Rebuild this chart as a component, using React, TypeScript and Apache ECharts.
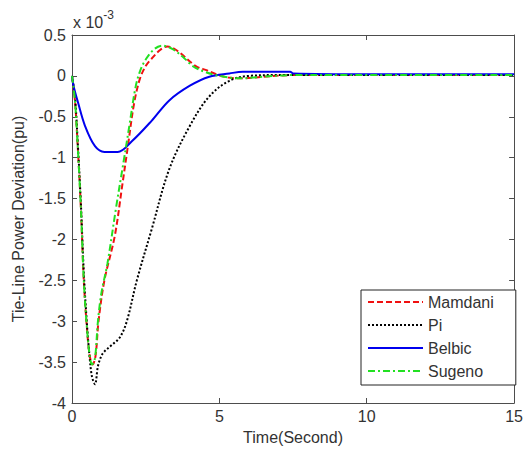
import React, { useEffect, useRef } from "react";
import * as echarts from "echarts";

// Time (s) and deviation (x 1e-3 pu)
const tMamdani = [0, 0.1, 0.2, 0.3, 0.4, 0.5, 0.6, 0.7, 0.8, 0.9, 1.1, 1.45, 1.7, 1.9, 2.1, 2.3, 2.5, 2.7, 3.0, 3.24, 3.6, 4.2, 4.56, 4.9, 5.3, 5.8, 6.5, 7.5, 9, 12, 15];
const vMamdani = [0, -0.3, -0.9, -1.6, -2.5, -3.05, -3.42, -3.53, -3.42, -3.0, -2.5, -1.96, -1.35, -0.85, -0.35, -0.04, 0.12, 0.21, 0.32, 0.36, 0.3, 0.12, 0.07, 0.02, -0.02, -0.03, -0.01, 0.01, 0.01, 0.01, 0.01];

const tPi = [0, 0.1, 0.2, 0.3, 0.4, 0.5, 0.6, 0.68, 0.78, 0.88, 1.0, 1.1, 1.35, 1.62, 1.86, 2.2, 2.7, 3.3, 4.0, 4.66, 5.34, 6.0, 7, 9, 12, 15];
const vPi = [0, -0.25, -0.85, -1.55, -2.4, -3.0, -3.45, -3.68, -3.77, -3.55, -3.42, -3.37, -3.29, -3.2, -3.0, -2.5, -1.88, -1.14, -0.61, -0.25, -0.06, 0, 0.01, 0.01, 0.01, 0.01];

const tBelbic = [0, 0.05, 0.2, 0.44, 0.78, 1.1, 1.55, 2.03, 2.7, 3.3, 4.0, 4.66, 5.34, 5.8, 7.4, 7.5, 10, 15];
const vBelbic = [0, -0.12, -0.32, -0.61, -0.86, -0.93, -0.93, -0.8, -0.55, -0.3, -0.12, -0.01, 0.03, 0.05, 0.05, 0.03, 0.02, 0.02];

const tSugeno = [0, 0.1, 0.2, 0.3, 0.4, 0.5, 0.6, 0.68, 0.78, 0.88, 1.0, 1.2, 1.5, 1.75, 1.95, 2.15, 2.3, 2.5, 2.8, 3.07, 3.4, 3.8, 4.1, 4.5, 5.0, 5.7, 6.5, 7.5, 9, 12, 15];
const vSugeno = [0, -0.3, -0.9, -1.6, -2.5, -3.05, -3.42, -3.53, -3.45, -3.0, -2.65, -2.3, -1.6, -1.05, -0.6, -0.15, 0.05, 0.2, 0.33, 0.37, 0.33, 0.22, 0.12, 0.05, 0, -0.03, -0.01, 0.01, 0.01, 0.01, 0.01];

const seriesNames = ["Mamdani", "Pi", "Belbic", "Sugeno"];
const xTicks = [0, 5, 10, 15];
const yTickLabels = ["0.5", "0", "-0.5", "-1", "-1.5", "-2", "-2.5", "-3", "-3.5", "-4"];

const zip = (t: number[], v: number[]) => t.map((x, i) => [x, v[i]]);

export default function App() {
  const ref = useRef<HTMLDivElement>(null);
  useEffect(() => {
    if (!ref.current) return;
    const chart = echarts.init(ref.current, null, { renderer: "svg" });
    const font = "Liberation Sans, Arial, sans-serif";
    const axisColor = "#4d4d4d";
    const textColor = "#333";
    const mk = (name: string, data: number[][], color: string, type: any) => ({
      name,
      type: "line",
      data,
      showSymbol: false,
      symbol: "none",
      smooth: 0.35,
      lineStyle: { color, width: 2, type },
      itemStyle: { color },
    });
    const sideAxis = { onZero: false, show: true, lineStyle: { color: axisColor, width: 1 } };
    chart.setOption({
      animation: false,
      backgroundColor: "#fff",
      textStyle: { fontFamily: font },
      grid: { left: 72, right: 10, top: 35, bottom: 47 },
      legend: {
        orient: "vertical",
        left: 361,
        top: 290,
        data: seriesNames,
        itemWidth: 55,
        itemHeight: 14,
        itemGap: 7,
        padding: [4, 22, 6, 6],
        backgroundColor: "#fff",
        borderColor: "#222",
        borderWidth: 1,
        borderRadius: 0,
        itemStyle: { opacity: 0 },
        textStyle: { fontSize: 16, color: textColor, fontFamily: font },
      },
      xAxis: [
        {
          type: "value",
          min: 0,
          max: 15,
          interval: 5,
          name: "Time(Second)",
          nameLocation: "middle",
          nameGap: 26,
          nameTextStyle: { fontSize: 16, color: textColor },
          axisLine: sideAxis,
          axisTick: { inside: true, length: 5, lineStyle: { color: axisColor } },
          axisLabel: { fontSize: 16, color: textColor, margin: 5, formatter: (v: number) => (xTicks.includes(v) ? String(v) : "") },
          splitLine: { show: false },
        },
        {
          type: "value",
          position: "top",
          min: 0,
          max: 15,
          interval: 5,
          axisLine: sideAxis,
          axisTick: { inside: true, length: 5, lineStyle: { color: axisColor } },
          axisLabel: { show: false },
          splitLine: { show: false },
        },
      ],
      yAxis: [
        {
          type: "value",
          min: -4,
          max: 0.5,
          interval: 0.5,
          name: "Tie-Line Power Deviation(pu)",
          nameLocation: "middle",
          nameGap: 46,
          nameTextStyle: { fontSize: 16, color: textColor },
          axisLine: sideAxis,
          axisTick: { show: true, inside: true, length: 5, lineStyle: { color: axisColor } },
          axisLabel: {
            fontSize: 16,
            color: textColor,
            margin: 6,
            formatter: (v: number) => {
              const idx = Math.round((0.5 - v) / 0.5);
              return yTickLabels[idx] ?? "";
            },
          },
          splitLine: { show: false },
        },
        {
          type: "value",
          position: "right",
          min: -4,
          max: 0.5,
          interval: 0.5,
          axisLine: sideAxis,
          axisTick: { show: true, inside: true, length: 5, lineStyle: { color: axisColor } },
          axisLabel: { show: false },
          splitLine: { show: false },
        },
      ],
      graphic: [
        {
          type: "text",
          left: 73,
          top: 9,
          style: {
            text: "{a|x 10}{b|-3}",
            rich: {
              a: { fontSize: 16, fill: textColor, fontFamily: font, verticalAlign: "bottom" },
              b: { fontSize: 12, fill: textColor, fontFamily: font, verticalAlign: "top", padding: [0, 0, 9, 0] },
            },
          },
        },
      ],
      series: [
        mk(seriesNames[0], zip(tMamdani, vMamdani), "#f01010", [6, 3]),
        mk(seriesNames[1], zip(tPi, vPi), "#000000", [2, 2]),
        mk(seriesNames[2], zip(tBelbic, vBelbic), "#0000ee", "solid"),
        mk(seriesNames[3], zip(tSugeno, vSugeno), "#22e022", [7, 3, 2, 3]),
      ],
    });
    return () => chart.dispose();
  }, []);
  return <div ref={ref} style={{ position: "fixed", left: 0, top: 0, width: 526, height: 450 }} />;
}
